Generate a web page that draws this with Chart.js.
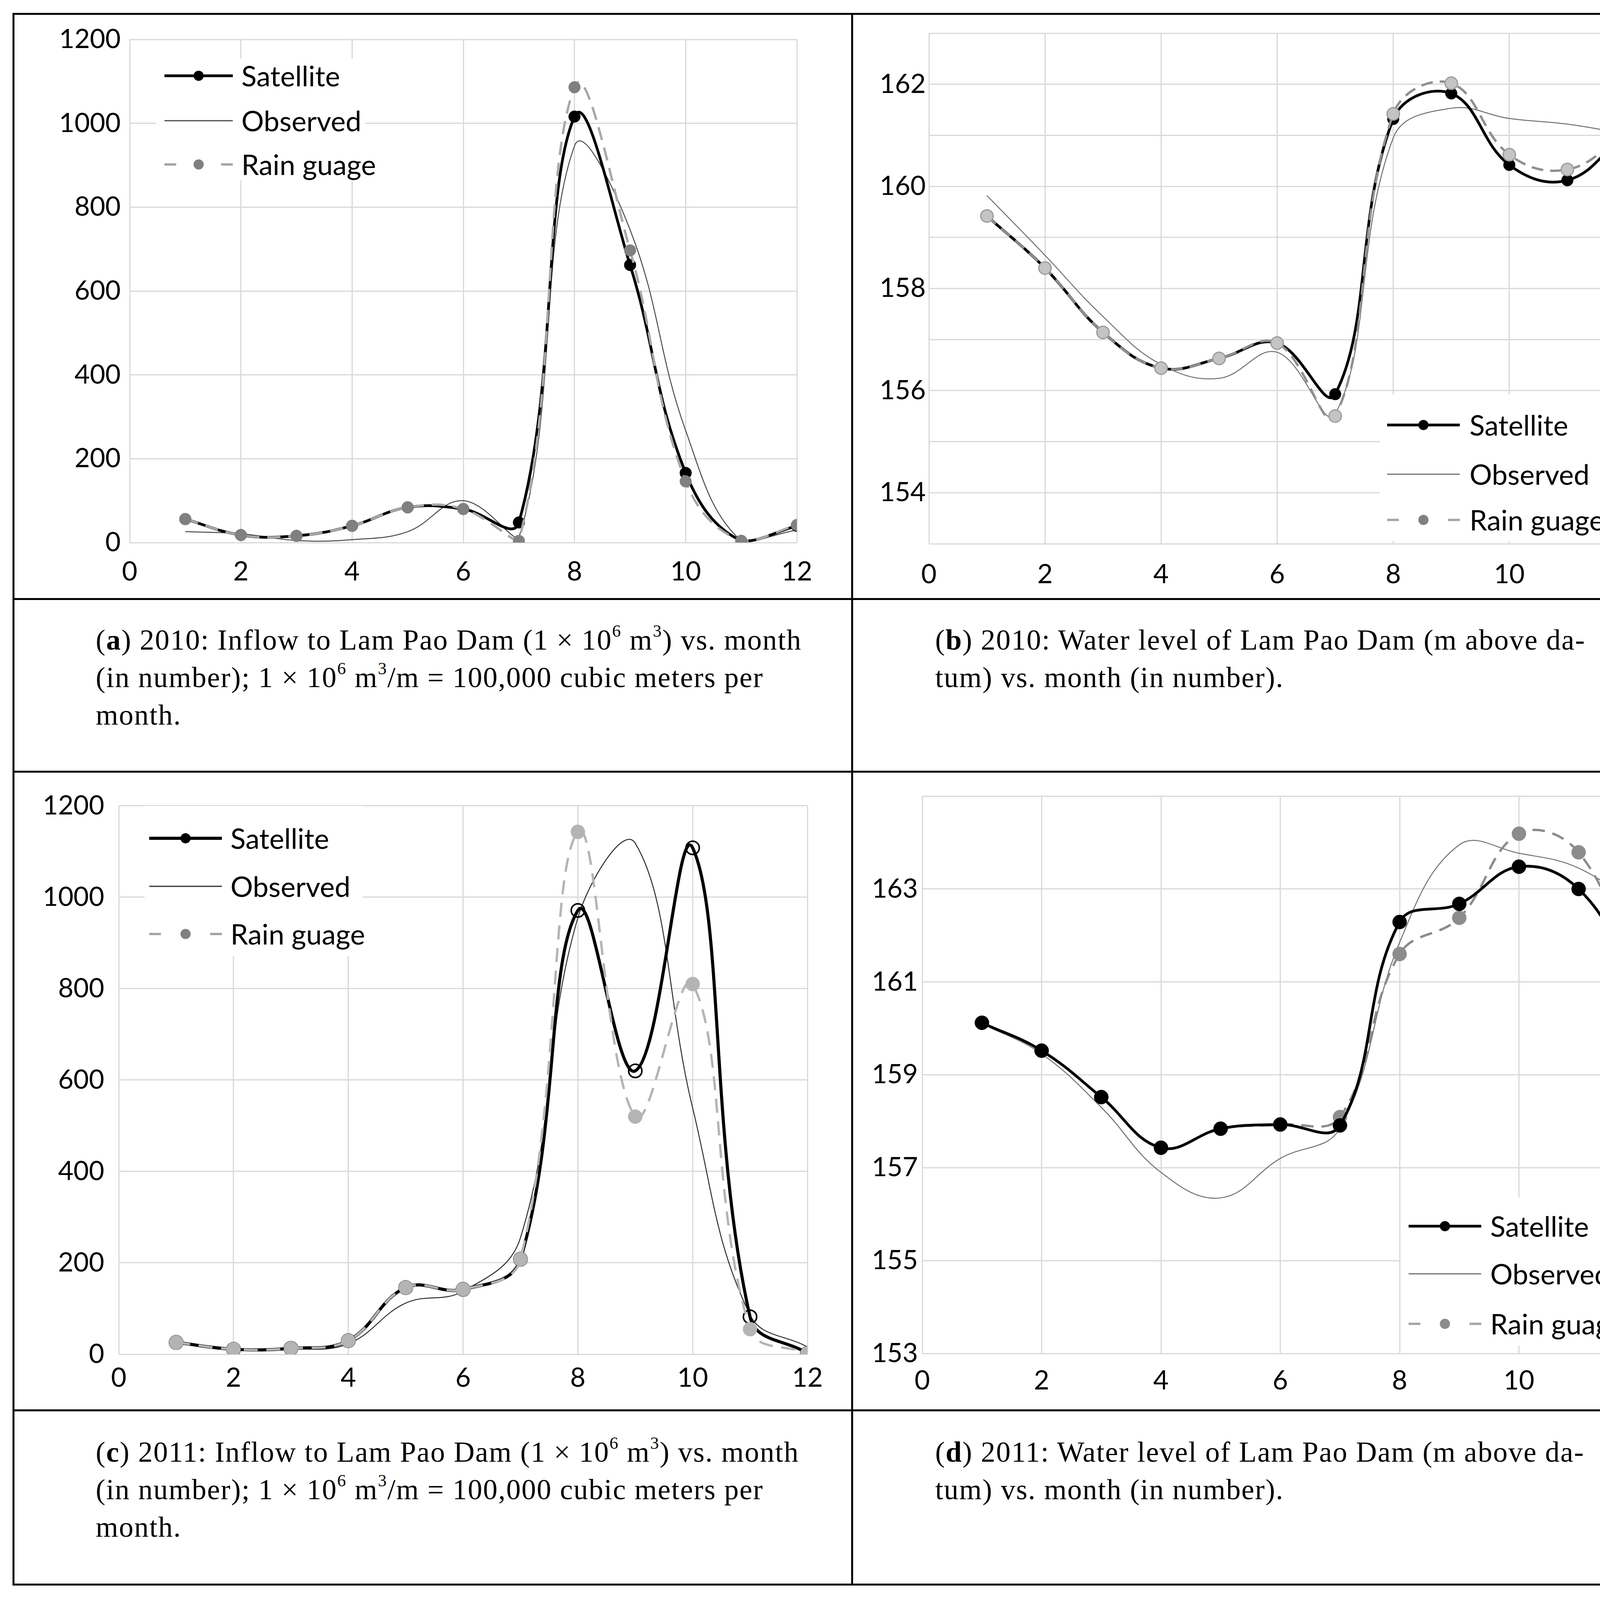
<!DOCTYPE html>
<html><head><meta charset="utf-8">
<script src="https://cdn.jsdelivr.net/npm/chart.js@4.4.0/dist/chart.umd.min.js"></script>
<style>
html,body{margin:0;padding:0;background:#fff;}
body{width:4310px;height:4097px;position:relative;overflow:hidden;}
.ln{position:absolute;background:#000;}
canvas{position:absolute;}
.cap{position:absolute;font-family:"Liberation Serif","Times New Roman",serif;font-size:74px;line-height:96px;letter-spacing:2px;color:#000;white-space:nowrap;}
.cap sup{font-size:0.6em;line-height:0;vertical-align:0.75em;}
</style></head><body>
<div class="ln" style="left:32px;top:33px;width:4246px;height:5px"></div>
<div class="ln" style="left:32px;top:4054px;width:4246px;height:5px"></div>
<div class="ln" style="left:32px;top:33px;width:5px;height:4026px"></div>
<div class="ln" style="left:4273px;top:33px;width:5px;height:4026px"></div>
<div class="ln" style="left:2179px;top:33px;width:5px;height:4026px"></div>
<div class="ln" style="left:32px;top:1531px;width:4246px;height:5px"></div>
<div class="ln" style="left:32px;top:1973px;width:4246px;height:5px"></div>
<div class="ln" style="left:32px;top:3608px;width:4246px;height:5px"></div>

<div class="cap" style="left:245px;top:1590px">(<b>a</b>) 2010: Inflow to Lam Pao Dam (1 × 10<sup>6</sup> m<sup>3</sup>) vs. month<br>(in number); 1 × 10<sup>6</sup> m<sup>3</sup>/m = 100,000 cubic meters per<br>month.</div>
<div class="cap" style="left:2394px;top:1590px">(<b>b</b>) 2010: Water level of Lam Pao Dam (m above da-<br>tum) vs. month (in number).</div>
<div class="cap" style="left:245px;top:3669px">(<b>c</b>) 2011: Inflow to Lam Pao Dam (1 × 10<sup>6</sup> m<sup>3</sup>) vs. month<br>(in number); 1 × 10<sup>6</sup> m<sup>3</sup>/m = 100,000 cubic meters per<br>month.</div>
<div class="cap" style="left:2394px;top:3669px">(<b>d</b>) 2011: Water level of Lam Pao Dam (m above da-<br>tum) vs. month (in number).</div>

<script>
// ---------- data ----------
const months = [1,2,3,4,5,6,7,8,9,10,11,12];
const seriesNames = ['Satellite','Observed','Rain guage'];
const xTickLabels = [0,2,4,6,8,10,12];
const inflowTickLabels = [0,200,400,600,800,1000,1200];
const level2010TickLabels = [154,156,158,160,162];
const level2011TickLabels = [153,155,157,159,161,163];

// (a) 2010 inflow
const satA  = [56,18,16,40,84,80,48,1016,662,166,4,40];
const obsA  = [26,21,5,7,26,100,12,946,746,267,4,30];
const rainA = [56,18,16,40,84,80,4,1086,697,146,4,42];
// (b) 2010 water level
const satB  = [159.42,158.40,157.14,156.44,156.63,156.93,155.93,161.32,161.82,160.42,160.12,161.03];
const obsB  = [159.82,158.65,157.45,156.51,156.24,156.75,155.54,160.95,161.53,161.33,161.22,161.03];
const rainB = [159.42,158.40,157.14,156.44,156.63,156.93,155.50,161.42,162.02,160.62,160.33,161.03];
// (c) 2011 inflow
const satC  = [26,11,13,30,146,142,208,971,620,1108,82,2];
const obsC  = [25,10,11,23,112,138,255,955,1118,539,86,16];
const rainC = [26,11,13,30,146,142,208,1143,520,810,55,2];
// (d) 2011 water level
const satD  = [160.12,159.52,158.52,157.43,157.84,157.93,157.91,162.29,162.68,163.48,163.00,161.00];
const obsD  = [160.10,159.45,158.30,156.90,156.35,157.20,157.85,161.85,163.95,163.77,163.45,162.60];
const rainD = [160.12,159.52,158.52,157.43,157.84,157.93,158.09,161.60,162.38,164.19,163.79,161.00];

// ---------- drawing ----------
const pts = vals => months.map((m,i)=>({x:m,y:vals[i]}));
const AXW=300, AXH=170, PT=70, PR=100;
const FONT='Lato';

function build(p){
  const [L,T,R,B]=p.box;
  const w=R-L+AXW+PR, h=B-T+PT+AXH;
  const cv=document.createElement('canvas');
  cv.width=w; cv.height=h;
  cv.style.left=(L-AXW)+'px'; cv.style.top=(T-PT)+'px';
  cv.style.width=w+'px'; cv.style.height=h+'px';
  document.body.appendChild(cv);
  const ox=L-AXW, oy=T-PT;
  const st=p.style;
  const legend={id:'customLegend',beforeDatasetsDraw(chart){
    const c=chart.ctx, lg=p.legend;
    c.save();
    c.fillStyle='#fff';
    c.fillRect(lg.box[0]-ox,lg.box[1]-oy,lg.box[2]-lg.box[0],lg.box[3]-lg.box[1]);
    const x0=lg.x0-ox, x1=lg.x1-ox, xm=(x0+x1)/2;
    seriesNames.forEach((name,i)=>{
      const y=lg.rows[i]-oy;
      c.setLineDash([]);
      if(i===0){
        c.strokeStyle='#000';c.lineWidth=st.satW;
        c.beginPath();c.moveTo(x0,y);c.lineTo(x1,y);c.stroke();
        c.fillStyle='#000';c.beginPath();c.arc(xm,y,13,0,Math.PI*2);c.fill();
      }else if(i===1){
        c.strokeStyle=st.obsC;c.lineWidth=3;
        c.beginPath();c.moveTo(x0,y);c.lineTo(x1,y);c.stroke();
      }else{
        c.strokeStyle='#a6a6a6';c.lineWidth=6;
        c.beginPath();c.moveTo(x0,y);c.lineTo(x0+30,y);c.moveTo(x1-30,y);c.lineTo(x1,y);c.stroke();
        c.fillStyle=st.lgDot;c.beginPath();c.arc(xm,y,13,0,Math.PI*2);c.fill();
      }
      c.fillStyle='#000';c.font='72px '+FONT;c.textBaseline='middle';c.textAlign='left';
      c.fillText(name,lg.tx-ox,y+4);
    });
    c.restore();
  }};
  const sat={label:seriesNames[0],data:pts(p.sat),borderColor:'#000',borderWidth:st.satW,
    pointRadius:st.satR,pointBackgroundColor:st.satFill,pointBorderColor:'#000',pointBorderWidth:st.satBW,
    tension:0.4,fill:false};
  const obs={label:seriesNames[1],data:pts(p.obs),borderColor:st.obsC,borderWidth:2.5,pointRadius:0,tension:0.4,fill:false};
  const rain={label:seriesNames[2],data:pts(p.rain),borderColor:st.rainLine,borderWidth:6,borderDash:st.dash,
    pointRadius:st.rainR,pointBackgroundColor:st.rainFill,pointBorderColor:st.rainBorder,pointBorderWidth:st.rainBW,
    tension:0.4,fill:false};
  const ds = p.satOnTop ? [sat,rain,obs] : [rain,sat,obs];
  new Chart(cv.getContext('2d'),{
    type:'line',
    data:{datasets:ds},
    options:{
      responsive:false,animation:false,devicePixelRatio:1,
      layout:{padding:{left:0,top:PT,right:PR,bottom:0}},
      plugins:{legend:{display:false},tooltip:{enabled:false}},
      elements:{line:{capBezierPoints:true}},
      scales:{
        x:{type:'linear',min:0,max:12,
          grid:{color:'#d9d9d9',lineWidth:3,drawTicks:false},border:{display:false},
          ticks:{stepSize:2,autoSkip:false,maxRotation:0,padding:p.xpad,color:'#000',font:{family:FONT,size:68},
            callback:v=>xTickLabels.includes(v)?String(v):''},
          afterFit(s){s.height=AXH;}},
        y:{type:'linear',min:p.ymin,max:p.ymax,
          grid:{color:'#d9d9d9',lineWidth:3,drawTicks:false},border:{display:false},
          ticks:{stepSize:p.ystep,autoSkip:false,padding:p.ypad,color:'#000',font:{family:FONT,size:68},
            callback:v=>p.ylabels.includes(v)?String(v):''},
          afterFit(s){s.width=AXW;}}
      }
    },
    plugins:[legend]
  });
}

build({box:[332,101,2040,1389],ymin:0,ymax:1200,ystep:200,ylabels:inflowTickLabels,ypad:23,xpad:34,
  sat:satA,obs:obsA,rain:rainA,satOnTop:false,
  style:{satW:7,satR:15,satFill:'#000',satBW:1,obsC:'#4a4a4a',rainLine:'#a8a8a8',dash:[34,20],rainR:15,rainFill:'#808080',rainBorder:'#808080',rainBW:1,lgDot:'#808080'},
  legend:{box:[400,150,935,462],x0:421,x1:596,tx:618,rows:[194,309,421]}});

build({box:[2378,85,4161,1392],ymin:153,ymax:163,ystep:1,ylabels:level2010TickLabels,ypad:8,xpad:38,
  sat:satB,obs:obsB,rain:rainB,satOnTop:false,
  style:{satW:7,satR:15,satFill:'#000',satBW:1,obsC:'#707070',rainLine:'#8f8f8f',dash:[30,18],rainR:16,rainFill:'#c4c4c4',rainBorder:'#9a9a9a',rainBW:3,lgDot:'#808080'},
  legend:{box:[3533,1010,4160,1385],x0:3551,x1:3737,tx:3762,rows:[1088,1214,1331]}});

build({box:[304,2055,2067,3467],ymin:0,ymax:1200,ystep:200,ylabels:inflowTickLabels,ypad:37,xpad:20,
  sat:satC,obs:obsC,rain:rainC,satOnTop:false,
  style:{satW:8,satR:17,satFill:'rgba(0,0,0,0)',satBW:4,obsC:'#2e2e2e',rainLine:'#b4b4b4',dash:[36,22],rainR:18,rainFill:'#b4b4b4',rainBorder:'#b4b4b4',rainBW:1,lgDot:'#808080'},
  legend:{box:[370,2063,928,2448],x0:382,x1:568,tx:590,rows:[2146,2269,2391]}});

build({box:[2361,2038,4194,3465],ymin:153,ymax:165,ystep:2,ylabels:level2011TickLabels,ypad:11,xpad:29,
  sat:satD,obs:obsD,rain:rainD,satOnTop:true,
  style:{satW:7,satR:18,satFill:'#000',satBW:1,obsC:'#707070',rainLine:'#8c8c8c',dash:[32,20],rainR:18,rainFill:'#8c8c8c',rainBorder:'#8c8c8c',rainBW:1,lgDot:'#8c8c8c'},
  legend:{box:[3585,3066,4190,3445],x0:3606,x1:3792,tx:3815,rows:[3139,3261,3389]}});
</script>
</body></html>
